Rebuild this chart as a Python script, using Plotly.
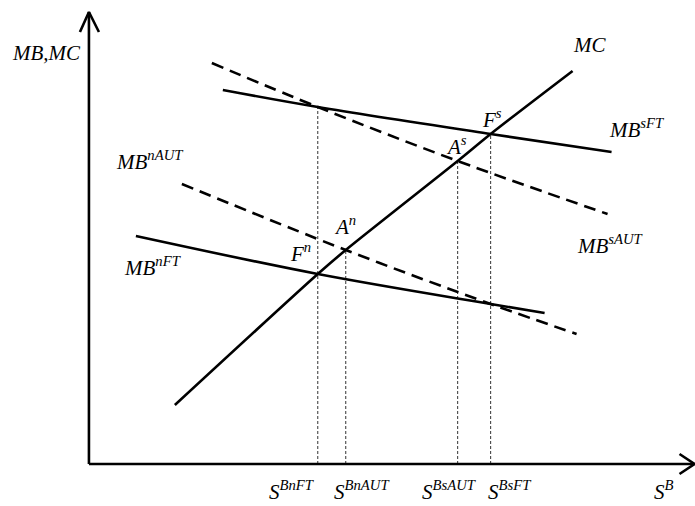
import plotly.graph_objects as go

# Curves in axis units (origin at the corner of the two axes)
mc_x = [86, 229, 257, 369, 402, 484]
mc_y = [59, 190, 214, 303, 330, 393]

mb_sft_x = [134, 229, 402, 523]
mb_sft_y = [374, 357, 330, 312]

mb_saut_x = [123, 229, 369, 519]
mb_saut_y = [401, 357, 303, 250]

mb_naut_x = [93, 257, 402, 488]
mb_naut_y = [280, 214, 160, 130]

mb_nft_x = [47, 229, 402, 456]
mb_nft_y = [228, 190, 160, 151]

# Quantities marked on the horizontal axis and the height each guide reaches
s_names = ["S<sup>BnFT</sup>", "S<sup>BnAUT</sup>", "S<sup>BsAUT</sup>", "S<sup>BsFT</sup>"]
s_values = [229, 257, 369, 402]
guide_tops = [357, 214, 303, 330]

# Axis extents
x_axis_end = 606
y_axis_end = 452

FONT = "Liberation Serif"
BLACK = "#000000"

fig = go.Figure()

def curve(x, y, dash="solid", smooth=1.0):
    dash_style = "12px,7px" if dash == "dash" else "solid"
    fig.add_trace(go.Scatter(
        x=x, y=y, mode="lines",
        line=dict(color=BLACK, width=2.6, shape="spline", smoothing=smooth, dash=dash_style),
        hoverinfo="skip", showlegend=False))

# Vertical guides down to the axis
for sv, top in zip(s_values, guide_tops):
    fig.add_trace(go.Scatter(
        x=[sv, sv], y=[0, top], mode="lines",
        line=dict(color="#333333", width=1, dash="3px,2px"),
        hoverinfo="skip", showlegend=False))

curve(mb_saut_x, mb_saut_y, "dash")
curve(mb_naut_x, mb_naut_y, "dash")
curve(mb_sft_x, mb_sft_y)
curve(mb_nft_x, mb_nft_y)
curve(mc_x, mc_y, smooth=0.8)

# Axes with open arrowheads
axis_line = dict(color=BLACK, width=2.6)
fig.add_trace(go.Scatter(x=[0, 0], y=[0, y_axis_end], mode="lines", line=axis_line,
                         hoverinfo="skip", showlegend=False))
fig.add_trace(go.Scatter(x=[-9, 0, 10], y=[y_axis_end - 20, y_axis_end, y_axis_end - 20],
                         mode="lines", line=axis_line, hoverinfo="skip", showlegend=False))
fig.add_trace(go.Scatter(x=[0, x_axis_end], y=[0, 0], mode="lines", line=axis_line,
                         hoverinfo="skip", showlegend=False))
fig.add_trace(go.Scatter(x=[x_axis_end - 15, x_axis_end, x_axis_end - 15], y=[10, 0, -10],
                         mode="lines", line=axis_line, hoverinfo="skip", showlegend=False))

# Text labels: (text, x, y)
labels = [
    ("MB,MC", -42, 411),
    ("MC", 501, 419),
    ("MB<sup>sFT</sup>", 548, 336),
    ("MB<sup>sAUT</sup>", 522, 220),
    ("MB<sup>nAUT</sup>", 61, 304),
    ("MB<sup>nFT</sup>", 64, 198),
    ("F<sup>n</sup>", 212, 212),
    ("A<sup>n</sup>", 256, 239),
    ("A<sup>s</sup>", 368, 319),
    ("F<sup>s</sup>", 403, 346),
    ("S<sup>B</sup>", 575, -26),
]
label_x = [203, 273, 361, 421]
for name, lx in zip(s_names, label_x):
    labels.append((name, lx, -26))

for text, lx, ly in labels:
    fig.add_annotation(
        x=lx, y=ly, text=text, showarrow=False,
        xanchor="center", yanchor="middle",
        font=dict(family=FONT, size=21, color=BLACK, style="italic"))

fig.update_layout(
    width=695, height=506,
    margin=dict(l=0, r=0, t=0, b=0),
    paper_bgcolor="white", plot_bgcolor="white",
    xaxis=dict(range=[-89, 606.5], visible=False, fixedrange=True),
    yaxis=dict(range=[-42, 464], visible=False, fixedrange=True),
    showlegend=False,
)

fig.write_html("out.html")
